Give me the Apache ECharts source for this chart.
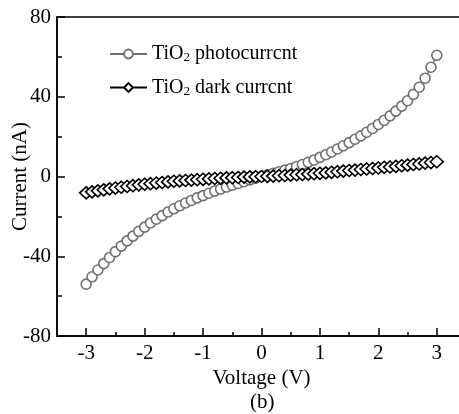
<!DOCTYPE html>
<html>
<head>
<meta charset="utf-8">
<script src="https://cdn.jsdelivr.net/npm/echarts@6/dist/echarts.min.js"></script>
<style>
  html, body { margin: 0; padding: 0; background: #fff; }
  #main { width: 459px; height: 414px; }
</style>
</head>
<body>
<div id="main"></div>
<script>
// values
var voltage = [-3.0, -2.9, -2.8, -2.7, -2.6, -2.5, -2.4, -2.3, -2.2, -2.1,
  -2.0, -1.9, -1.8, -1.7, -1.6, -1.5, -1.4, -1.3, -1.2, -1.1,
  -1.0, -0.9, -0.8, -0.7, -0.6, -0.5, -0.4, -0.3, -0.2, -0.1,
  0.0, 0.1, 0.2, 0.3, 0.4, 0.5, 0.6, 0.7, 0.8, 0.9,
  1.0, 1.1, 1.2, 1.3, 1.4, 1.5, 1.6, 1.7, 1.8, 1.9,
  2.0, 2.1, 2.2, 2.3, 2.4, 2.5, 2.6, 2.7, 2.8, 2.9, 3.0];

var photoCurrent = [-54.0, -50.3, -46.9, -43.7, -40.6, -37.7, -34.9, -32.3, -29.9, -27.5,
  -25.4, -23.3, -21.4, -19.6, -17.8, -16.2, -14.7, -13.3, -12.0, -10.7,
  -9.6, -8.4, -7.3, -6.3, -5.3, -4.4, -3.5, -2.6, -1.7, -0.8,
  0.0, 0.8, 1.6, 2.4, 3.2, 4.0, 5.0, 6.0, 7.1, 8.3,
  9.6, 10.9, 12.3, 13.8, 15.4, 17.0, 18.7, 20.4, 22.2, 24.1,
  26.1, 28.2, 30.4, 32.8, 35.3, 38.0, 41.2, 44.8, 49.3, 54.8, 60.8];

var darkCurrent = [-8.2, -7.7, -7.2, -6.7, -6.2, -5.8, -5.4, -5.0, -4.6, -4.2,
  -3.9, -3.6, -3.3, -3.0, -2.7, -2.4, -2.2, -2.0, -1.8, -1.6,
  -1.4, -1.2, -1.0, -0.9, -0.7, -0.6, -0.5, -0.3, -0.2, -0.1,
  0.0, 0.1, 0.2, 0.4, 0.5, 0.7, 0.9, 1.0, 1.2, 1.4,
  1.6, 1.8, 2.1, 2.4, 2.7, 3.0, 3.2, 3.5, 3.8, 4.0,
  4.3, 4.6, 4.8, 5.1, 5.4, 5.7, 6.0, 6.3, 6.7, 7.0, 7.4];

var seriesNames = ["TiO2 photocurrcnt", "TiO2 dark currcnt"];

var serif = "Liberation Serif";

function pairs(ys) {
  return voltage.map(function (v, i) { return [v, ys[i]]; });
}

var myChart = echarts.init(document.getElementById("main"));

var option = {
  animation: false,
  backgroundColor: "#fff",
  textStyle: { fontFamily: serif, color: "#000" },
  grid: {
    left: 57,
    top: 17,
    width: 409, // right edge falls just outside the picture, as in the figure
    height: 319,
    containLabel: false,
    outerBoundsMode: "none",
    show: true,
    borderColor: "#000",
    borderWidth: 1.5,
    backgroundColor: "transparent",
  },
  legend: {
    orient: "vertical",
    left: 104,
    top: 39,
    itemWidth: 37,
    itemHeight: 11,
    itemGap: 13,
    data: seriesNames,
    textStyle: {
      fontFamily: serif,
      fontSize: 20,
      color: "#000",
      rich: {
        a: { fontFamily: serif, fontSize: 20, color: "#000" },
        s: { fontFamily: serif, fontSize: 13, color: "#000", padding: [8, 0, 0, 0] },
      },
    },
    formatter: function (name) {
      var rest = name.replace("TiO2", "");
      return "{a|TiO}{s|2}{a|" + rest + "}";
    },
  },
  xAxis: [
    {
      type: "value",
      min: -3.5,
      max: 3.5,
      interval: 1,
      position: "bottom",
      name: "Voltage (V)",
      nameLocation: "middle",
      nameGap: 32,
      nameMoveOverlap: false,
      nameTextStyle: { fontFamily: serif, fontSize: 21, color: "#000" },
      axisLine: { onZero: false, lineStyle: { color: "#000", width: 1.5 } },
      // half-volt ticks (short) from the interval, whole volts (long) as minor ticks
      axisTick: { inside: true, length: 4, lineStyle: { color: "#000", width: 1.5 } },
      minorTick: { show: true, splitNumber: 2, length: 8, lineStyle: { color: "#000", width: 1.5 } },
      axisLabel: { show: false },
      splitLine: { show: false },
    },
    {
      type: "value",
      min: -3.5,
      max: 3.5,
      interval: 0.5,
      position: "bottom",
      axisLine: { show: false, onZero: false },
      axisTick: { show: false },
      splitLine: { show: false },
      axisLabel: {
        margin: 7,
        fontFamily: serif,
        fontSize: 21,
        color: "#000",
        formatter: function (v) {
          return Math.abs(v - Math.round(v)) < 1e-6 && Math.abs(v) < 3.2 ? String(Math.round(v)) : "";
        },
      },
    },
  ],
  yAxis: {
    type: "value",
    min: -80,
    max: 80,
    interval: 40,
    position: "left",
    name: "Current (nA)",
    nameLocation: "middle",
    nameRotate: 90,
    nameGap: 26,
    nameMoveOverlap: false,
    nameTextStyle: { fontFamily: serif, fontSize: 21, color: "#000" },
    axisLine: { show: true, onZero: false, lineStyle: { color: "#000", width: 1.5 } },
    axisTick: { show: true, inside: true, length: 8, lineStyle: { color: "#000", width: 1.5 } },
    minorTick: { show: true, splitNumber: 2, length: 5, lineStyle: { color: "#000", width: 1.5 } },
    axisLabel: { margin: 6, fontFamily: serif, fontSize: 21, color: "#000" },
    splitLine: { show: false },
  },
  graphic: [
    {
      type: "text",
      left: 250,
      top: 392,
      style: { text: "(b)", font: "21px 'Liberation Serif'", fill: "#000" },
    },
  ],
  series: [
    {
      name: seriesNames[0],
      type: "line",
      xAxisIndex: 0,
      data: pairs(photoCurrent),
      symbol: "circle",
      symbolSize: 10,
      showAllSymbol: true,
      lineStyle: { color: "#707070", width: 1.5 },
      itemStyle: { color: "#fff", borderColor: "#707070", borderWidth: 1.6 },
    },
    {
      name: seriesNames[1],
      type: "line",
      xAxisIndex: 0,
      data: pairs(darkCurrent),
      symbol: "diamond",
      symbolSize: [13, 12],
      showAllSymbol: true,
      lineStyle: { color: "#000", width: 1.5 },
      itemStyle: { color: "#fff", borderColor: "#000", borderWidth: 1.6 },
    },
  ],
};

myChart.setOption(option);
</script>
</body>
</html>
